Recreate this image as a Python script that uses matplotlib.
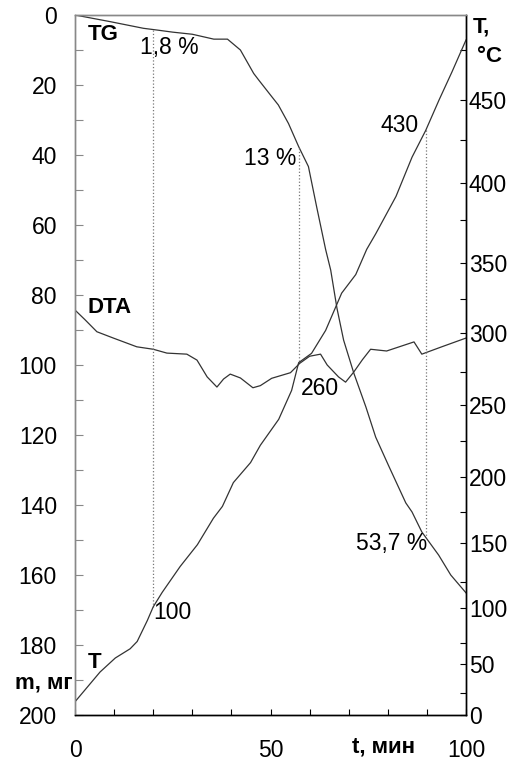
import numpy as np
import matplotlib
matplotlib.use('Agg')
import matplotlib.pyplot as plt

plt.rcParams['font.family'] = ['Liberation Sans', 'DejaVu Sans']

# TG curve: time (min) vs mass (mg)
tg_t = [0, 9, 17.5, 21, 25, 30, 35.5, 39, 42.3, 45.7, 47, 50.3, 52, 54.6, 57.2,
        59.7, 61.8, 64.1, 65.4, 67, 68.7, 71.3, 74.4, 76.9, 80.3, 84.6, 86.2,
        88.7, 93, 96.1, 100]
tg_m = [0, 1.9, 3.8, 4.3, 4.9, 5.5, 6.9, 6.9, 10, 16.7, 18.6, 23.3, 25.7, 31,
        37.6, 43.3, 54.8, 67, 72.9, 83.8, 92.9, 102.3, 112, 120.6, 129, 139.4,
        142, 147.7, 154.3, 160, 165.1]

# DTA curve (drawn against the left axis)
dta_t = [0, 2.5, 5.6, 9.8, 15.8, 20, 23.5, 28.6, 31.2, 33.8, 36.3, 38, 39.7,
         42.3, 45.5, 47.4, 50.3, 55.1, 57.5, 60, 62.8, 64.5, 67.4, 69.2, 71.3,
         73.5, 75.6, 79.7, 86.7, 88.7, 93.8, 100]
dta_m = [84.3, 87, 90.5, 92.3, 94.8, 95.5, 96.6, 96.9, 98.6, 103.4, 106.3, 104,
         102.6, 103.7, 106.5, 105.9, 103.8, 102.2, 99.5, 97.5, 96.9, 100, 103.4,
         104.9, 102, 98.5, 95.5, 96, 93.4, 96.9, 94.8, 92.3]

# temperature curve (°C)
temp_t = [0, 6.4, 10.3, 14.1, 15.9, 18.5, 20, 22.3, 26.9, 31.3, 35.4, 37.7,
          40.5, 44.9, 47.4, 52.1, 55.4, 57.2, 60.5, 64.1, 68.2, 71.8, 74.6,
          76.9, 82.1, 86.2, 89.7, 93.1, 96.4, 100]
temp_c = [15, 43, 57, 68, 76, 91, 101, 115, 135, 149, 170, 179, 196, 210, 222,
          240, 261, 281, 287, 302, 329, 342, 358, 367, 391, 415, 431, 450, 464,
          480]

# non-linear temperature scale: each T tick and the mass level (mg) it sits at
t_scale_c = [0, 25, 50, 75, 100, 125, 150, 175, 200, 225, 250, 275, 300, 325,
             350, 375, 400, 425, 450, 475, 500]
t_scale_mg = [200, 193.7, 185.4, 179.4, 169.4, 162, 150.9, 142, 132, 121.7,
              111.4, 102, 90.9, 81.1, 70.9, 58.6, 48, 35.7, 24.3, 10, -4.3]

drop_times = [20, 57.4, 89.7]

h_cal = 200 - np.array(t_scale_mg)


def fwd(v):
    return np.interp(v, t_scale_c, h_cal)


def inv(v):
    return np.interp(v, h_cal, t_scale_c)


fig = plt.figure(figsize=(5.18, 7.65), dpi=100)
ax = fig.add_axes([75 / 518, 50 / 765, 391 / 518, 700 / 765])
ax2 = ax.twinx()
ax2.set_yscale('function', functions=(fwd, inv))

line_kw = dict(color='#333333', lw=0.9)
ax.plot(tg_t, tg_m, **line_kw)
ax.plot(dta_t, dta_m, **line_kw)
ax2.plot(temp_t, temp_c, **line_kw)

ax.set_xlim(0, 100)
ax.set_ylim(200, 0)
ax2.set_ylim(0, float(inv(200)))

# dotted drop lines from TG to T curve
for tt in drop_times:
    y_tg = np.interp(tt, tg_t, tg_m)
    y_temp = 200 - fwd(np.interp(tt, temp_t, temp_c))
    ax.vlines(tt, min(y_tg, y_temp), max(y_tg, y_temp), colors='#777777',
              linestyles=':', lw=0.9)

ax.set_xticks([0, 50, 100])
ax.set_xticks(np.arange(10, 100, 10), minor=True)
ax.set_yticks(np.arange(0, 201, 20))
ax.set_yticks(np.arange(10, 200, 20), minor=True)
ax2.set_yticks(np.arange(0, 451, 50))
ax2.set_yticks(np.arange(25, 480, 50), minor=True)

fs = 16.5
ax.tick_params(axis='x', which='both', direction='in', length=4, width=0.8,
               pad=17, labelsize=fs)
ax.tick_params(axis='y', which='both', direction='in', length=6, width=0.8,
               pad=13, labelsize=fs, color='#888888')
ax2.tick_params(axis='y', which='both', direction='in', length=4, width=0.8,
                pad=2, labelsize=fs)

for a in (ax, ax2):
    a.spines['top'].set_color('#888888')
    a.spines['left'].set_color('#888888')
    a.spines['bottom'].set_color('black')
    a.spines['right'].set_color('black')
    for s in a.spines.values():
        s.set_linewidth(1.0)

bold = dict(fontsize=16, fontweight='bold')
ax.text(3.3, 5.7, 'TG', ha='left', va='center', **bold)
ax.text(3.1, 83.7, 'DTA', ha='left', va='center', **bold)
ax.text(3.3, 184.9, 'T', ha='left', va='center', **bold)

ax.text(16.7, 9.4, '1,8 %', ha='left', va='center', fontsize=fs)
ax.text(43.1, 40.9, '13 %', ha='left', va='center', fontsize=fs)
ax.text(87.9, 31.7, '430', ha='right', va='center', fontsize=fs)
ax.text(57.7, 106.6, '260', ha='left', va='center', fontsize=fs)
ax.text(20.0, 170.6, '100', ha='left', va='center', fontsize=fs)
ax.text(90.0, 150.9, '53,7 %', ha='right', va='center', fontsize=fs)

fig.text(43.5 / 518, 1 - 683 / 765, 'm, мг', ha='center', va='center', **bold)
fig.text(383 / 518, 1 - 747 / 765, 't, мин', ha='center', va='center', **bold)
fig.text(473 / 518, 1 - 27 / 765, 'T,', ha='left', va='center', **bold)
fig.text(477 / 518, 1 - 57 / 765, '°C', ha='left', va='center', **bold)

fig.savefig('out.png', dpi=100)
